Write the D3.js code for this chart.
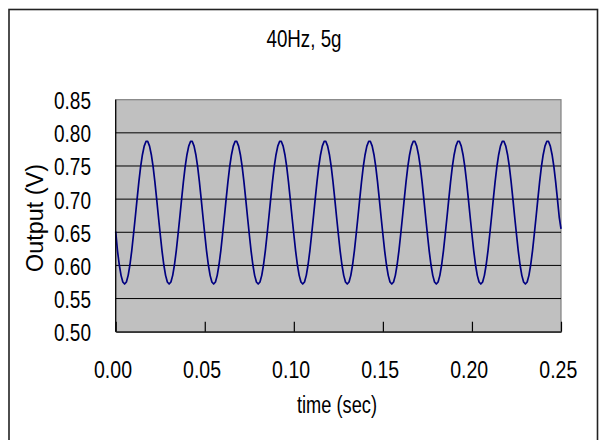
<!DOCTYPE html>
<html>
<head>
<meta charset="utf-8">
<script src="https://cdn.jsdelivr.net/npm/d3@7"></script>
<style>
  html, body { margin: 0; padding: 0; background: #fff; }
  text { font-family: "Liberation Sans Narrow", "Arial Narrow", "Liberation Sans", sans-serif; fill: #000; }
</style>
</head>
<body>
<svg id="chart" width="599" height="440"></svg>
<script>
const svg = d3.select("#chart");

const title = "40Hz, 5g";
const xTitle = "time (sec)";
const yTitle = "Output (V)";
const xTicks = [0, 0.05, 0.10, 0.15, 0.20, 0.25];
const yTicks = [0.50, 0.55, 0.60, 0.65, 0.70, 0.75, 0.80, 0.85];

// sampled every 1 ms, 0.000 .. 0.250 s
const sampleStep = 0.001;
const output = [
  0.651, 0.622, 0.601, 0.585, 0.575, 0.572, 0.575, 0.585, 0.601, 0.622, 0.647, 0.673, 0.700, 0.726, 0.749, 0.767, 0.780, 0.787, 0.787, 0.780, 0.767, 0.749, 0.726, 0.700, 0.673,
  0.647, 0.622, 0.601, 0.585, 0.575, 0.572, 0.575, 0.585, 0.601, 0.622, 0.647, 0.673, 0.700, 0.726, 0.749, 0.767, 0.780, 0.787, 0.787, 0.780, 0.767, 0.749, 0.726, 0.700, 0.673,
  0.647, 0.622, 0.601, 0.585, 0.575, 0.572, 0.575, 0.585, 0.601, 0.622, 0.647, 0.673, 0.700, 0.726, 0.749, 0.767, 0.780, 0.787, 0.787, 0.780, 0.767, 0.749, 0.726, 0.700, 0.673,
  0.647, 0.622, 0.601, 0.585, 0.575, 0.572, 0.575, 0.585, 0.601, 0.622, 0.647, 0.673, 0.700, 0.726, 0.749, 0.767, 0.780, 0.787, 0.787, 0.780, 0.767, 0.749, 0.726, 0.700, 0.673,
  0.647, 0.622, 0.601, 0.585, 0.575, 0.572, 0.575, 0.585, 0.601, 0.622, 0.647, 0.673, 0.700, 0.726, 0.749, 0.767, 0.780, 0.787, 0.787, 0.780, 0.767, 0.749, 0.726, 0.700, 0.673,
  0.647, 0.622, 0.601, 0.585, 0.575, 0.572, 0.575, 0.585, 0.601, 0.622, 0.647, 0.673, 0.700, 0.726, 0.749, 0.767, 0.780, 0.787, 0.787, 0.780, 0.767, 0.749, 0.726, 0.700, 0.673,
  0.647, 0.622, 0.601, 0.585, 0.575, 0.572, 0.575, 0.585, 0.601, 0.622, 0.647, 0.673, 0.700, 0.726, 0.749, 0.767, 0.780, 0.787, 0.787, 0.780, 0.767, 0.749, 0.726, 0.700, 0.673,
  0.647, 0.622, 0.601, 0.585, 0.575, 0.572, 0.575, 0.585, 0.601, 0.622, 0.647, 0.673, 0.700, 0.726, 0.749, 0.767, 0.780, 0.787, 0.787, 0.780, 0.767, 0.749, 0.726, 0.700, 0.673,
  0.647, 0.622, 0.601, 0.585, 0.575, 0.572, 0.575, 0.585, 0.601, 0.622, 0.647, 0.673, 0.700, 0.726, 0.749, 0.767, 0.780, 0.787, 0.787, 0.780, 0.767, 0.749, 0.726, 0.700, 0.673,
  0.647, 0.622, 0.601, 0.585, 0.575, 0.572, 0.575, 0.585, 0.601, 0.622, 0.647, 0.673, 0.700, 0.726, 0.749, 0.767, 0.780, 0.787, 0.787, 0.780, 0.767, 0.749, 0.726, 0.700, 0.673,
  0.655
];

const plot = { left: 115.7, right: 561, top: 99.7, bottom: 331.7 };

const x = d3.scaleLinear().domain([0, 0.25]).range([plot.left, plot.right]);
const y = d3.scaleLinear().domain([0.50, 0.85]).range([plot.bottom, plot.top]);

// chart frame (bottom edge is off the page)
svg.append("rect")
  .attr("x", 9).attr("y", 9.5).attr("width", 588.5).attr("height", 460)
  .attr("fill", "#fff").attr("stroke", "#222").attr("stroke-width", 1.6);

// plot area
svg.append("rect")
  .attr("x", plot.left).attr("y", plot.top)
  .attr("width", plot.right - plot.left).attr("height", plot.bottom - plot.top)
  .attr("fill", "#c0c0c0").attr("stroke", "#808080").attr("stroke-width", 1.2);

// horizontal gridlines
svg.append("g")
  .selectAll("line")
  .data(yTicks.filter(d => d > 0.5 && d < 0.85))
  .join("line")
  .attr("x1", plot.left).attr("x2", plot.right)
  .attr("y1", d => y(d)).attr("y2", d => y(d))
  .attr("stroke", "#000").attr("stroke-width", 1);

// series
const line = d3.line()
  .x((d, i) => x(i * sampleStep))
  .y(d => y(d));

svg.append("path")
  .datum(output)
  .attr("d", line)
  .attr("fill", "none")
  .attr("stroke", "#000080")
  .attr("stroke-width", 1.7)
  .attr("stroke-linejoin", "round");

// axes lines
svg.append("line")
  .attr("x1", plot.left).attr("x2", plot.left)
  .attr("y1", plot.top).attr("y2", plot.bottom)
  .attr("stroke", "#000").attr("stroke-width", 1.2);

const xAxis = d3.axisBottom(x).tickValues(xTicks).tickSizeInner(-10).tickSizeOuter(0).tickFormat("");
svg.append("g")
  .attr("transform", `translate(0,${plot.bottom})`)
  .call(xAxis)
  .call(g => g.select(".domain").attr("stroke", "#000").attr("stroke-width", 1.2))
  .call(g => g.selectAll(".tick line").attr("stroke", "#000").attr("stroke-width", 1.2));

// y tick labels
svg.append("g")
  .selectAll("text")
  .data(yTicks)
  .join("text")
  .attr("x", 91)
  .attr("y", d => y(d) + 9.5)
  .attr("text-anchor", "end")
  .attr("font-size", 24)
  .attr("textLength", 37)
  .attr("lengthAdjust", "spacingAndGlyphs")
  .text(d => d.toFixed(2));

// x tick labels
svg.append("g")
  .selectAll("text")
  .data(xTicks)
  .join("text")
  .attr("x", d => x(d) - 2.7)
  .attr("y", 378.3)
  .attr("text-anchor", "middle")
  .attr("font-size", 24)
  .attr("textLength", 38)
  .attr("lengthAdjust", "spacingAndGlyphs")
  .text(d => d.toFixed(2));

// titles
svg.append("text")
  .attr("x", 304).attr("y", 46.7)
  .attr("text-anchor", "middle")
  .attr("font-size", 24)
  .attr("textLength", 75)
  .attr("lengthAdjust", "spacingAndGlyphs")
  .text(title);

svg.append("text")
  .attr("x", 337).attr("y", 413)
  .attr("text-anchor", "middle")
  .attr("font-size", 23)
  .attr("textLength", 80)
  .attr("lengthAdjust", "spacingAndGlyphs")
  .text(xTitle);

svg.append("text")
  .attr("transform", "translate(43,218) rotate(-90)")
  .attr("text-anchor", "middle")
  .attr("font-size", 23)
  .attr("textLength", 108)
  .attr("lengthAdjust", "spacingAndGlyphs")
  .text(yTitle);
</script>
</body>
</html>
